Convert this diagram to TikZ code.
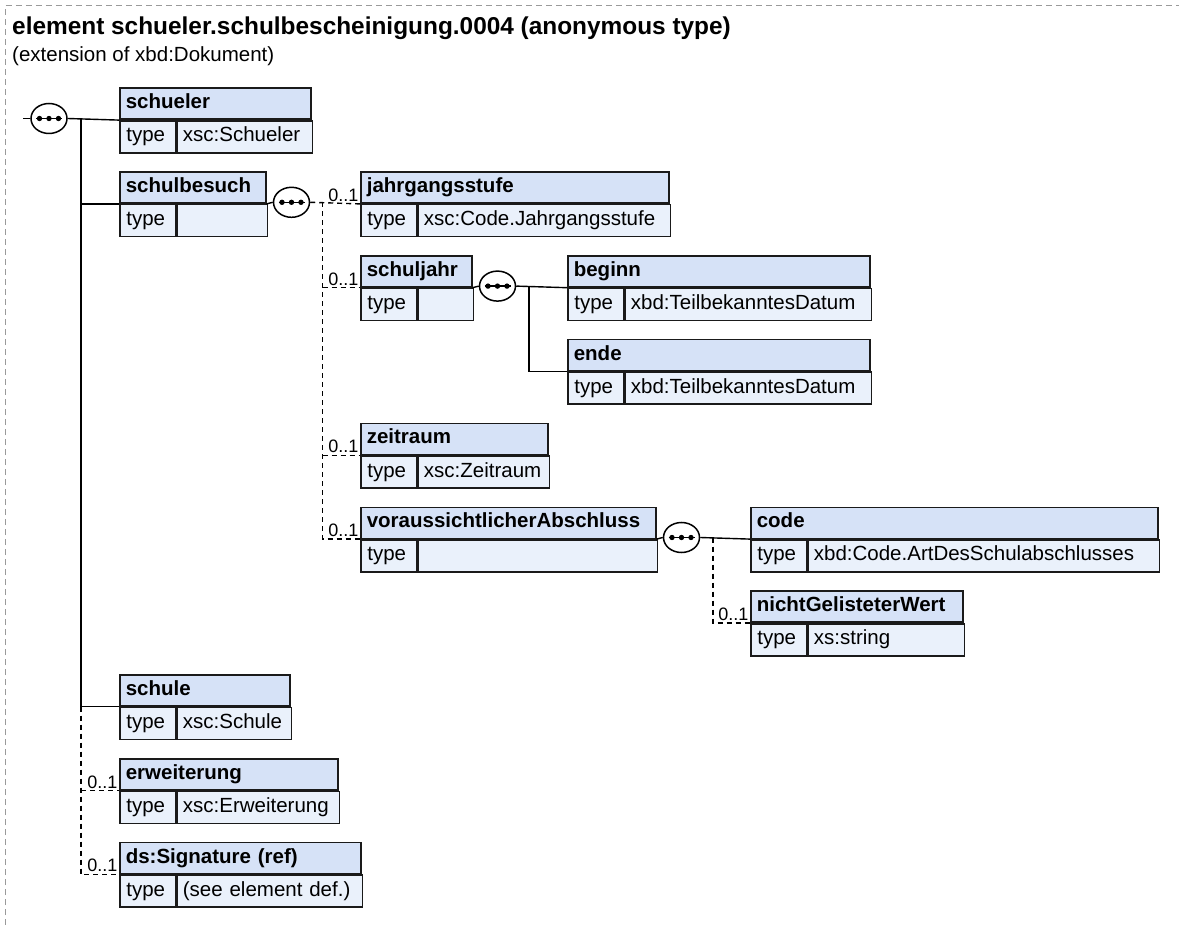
\documentclass[tikz,border=0pt]{standalone}
\usepackage{fontspec}
\setmainfont{Liberation Sans}
\usetikzlibrary{shapes.geometric}
\definecolor{hdrfill}{HTML}{D6E2F7}
\definecolor{typefill}{HTML}{EAF1FB}
\definecolor{boxline}{HTML}{1A1A1A}
\definecolor{frameline}{HTML}{9A9A9A}
\tikzset{
  hdr/.style={draw=boxline, fill=hdrfill, line width=1.6pt, anchor=north west,
    minimum height=31pt, inner xsep=6pt, inner ysep=0pt, text height=15pt,
    text depth=5pt, align=left, font=\bfseries\fontsize{20.5}{24}\selectfont},
  tcell/.style={draw=boxline, fill=typefill, line width=1.6pt, anchor=north west,
    minimum height=32pt, inner xsep=6.5pt, inner ysep=0pt, text width=43pt,
    text height=15pt, text depth=5pt, align=left, font=\fontsize{20.5}{24}\selectfont},
  vcell/.style={draw=boxline, fill=typefill, line width=1.6pt, anchor=north west,
    minimum height=32pt, inner xsep=5.5pt, inner ysep=0pt,
    text height=15pt, text depth=5pt, align=left, font=\fontsize{20.5}{24}\selectfont},
  seq/.style={ellipse, draw=black, line width=1.5pt, fill=white,
    minimum width=36pt, minimum height=30pt, inner sep=0pt,
    path picture={
      \draw[black, solid, line width=1.3pt] ([xshift=-13pt]path picture bounding box.center) -- ([xshift=13pt]path picture bounding box.center);
      \fill[black] ([xshift=-9.5pt]path picture bounding box.center) circle (2.7pt)
            (path picture bounding box.center) circle (2.7pt)
            ([xshift=9.5pt]path picture bounding box.center) circle (2.7pt);
    }},
  conn/.style={draw=black, line width=1.4pt},
  optc/.style={conn, dash pattern=on 5pt off 4pt},
  mult/.style={anchor=base east, inner sep=0pt, xshift=-1.5pt, yshift=2.5pt,
    font=\fontsize{18}{20}\selectfont},
  frame/.style={draw=frameline, line width=1pt, dash pattern=on 6pt off 4pt},
}
\newcommand\xsdbox[6]{%
  \pgfmathsetmacro\xsdw{#4-12}%
  \pgfmathsetmacro\xsdv{#4-56-11}%
  \node[hdr,text width=\xsdw pt] (#1) at (#2,#3) {#5};
  \node[tcell] (#1-t) at (#1.south west) {type};
  \node[vcell,text width=\xsdv pt] (#1-v) at (#1-t.north east) {#6};
}
\begin{document}
\begin{tikzpicture}[x=1pt,y=-1pt]
\useasboundingbox (0,0) rectangle (1179,925);
\draw[frame] (5.5,925) -- (5.5,5.5) -- (1179,5.5);
\node[anchor=base west, inner sep=0pt, font=\bfseries\fontsize{24.4}{28}\selectfont] (title) at (12,35) {element schueler.schulbescheinigung.0004 (anonymous type)};
\node[anchor=base west, inner sep=0pt, font=\fontsize{20.5}{24}\selectfont] (subtitle) at (12,62) {(extension of xbd:Dokument)};

% boxes
\xsdbox{schueler}{119}{87.5}{191}{schueler}{xsc:Schueler}
\xsdbox{schulbesuch}{119}{171.3}{146}{schulbesuch}{}
\xsdbox{jahrgang}{360}{171.3}{308}{jahrgangsstufe}{xsc:Code.Jahrgangsstufe}
\xsdbox{schuljahr}{360}{255.1}{111}{schuljahr}{}
\xsdbox{beginn}{567}{255.1}{302}{beginn}{xbd:TeilbekanntesDatum}
\xsdbox{ende}{567}{338.9}{302}{ende}{xbd:TeilbekanntesDatum}
\xsdbox{zeitraum}{360}{422.7}{187}{zeitraum}{xsc:Zeitraum}
\xsdbox{voraus}{360}{506.5}{295}{voraussichtlicherAbschluss}{}
\xsdbox{code}{750}{506.5}{407}{code}{xbd:Code.ArtDesSchulabschlusses}
\xsdbox{nicht}{750}{590.3}{212}{nichtGelisteterWert}{xs:string}
\xsdbox{schule}{119}{674.1}{170}{schule}{xsc:Schule}
\xsdbox{erw}{119}{757.9}{218}{erweiterung}{xsc:Erweiterung}
\xsdbox{sig}{119}{841.7}{241}{ds:Signature (ref)}{(see element def.)}

% sequence compositors
\node[seq] (sq0) at (49,118.5) {};
\node[seq] (sq1) at (291.5,202.3) {};
\node[seq] (sq2) at (497.5,286.1) {};
\node[seq] (sq3) at (681.5,537.5) {};

% main sequence
\coordinate (in0) at (23,118.5);
\coordinate (tr0) at (81,118.5);
\draw[conn] (in0) -- (sq0.west);
\draw[conn] (sq0.east) -- (schueler.south west);
\draw[conn] (tr0) |- (schulbesuch.south west);
\draw[conn] (tr0) |- (schule.south west);
\draw[optc] (tr0 |- schule.south west) -- (tr0 |- sig.south west) -- (sig.south west);
\draw[optc] (tr0 |- erw.south west) -- (erw.south west);
\node[mult] (m1) at (erw.south west) {0..1};
\node[mult] (m2) at (sig.south west) {0..1};

% schulbesuch sequence
\coordinate (tr1) at (322.5,202.3);
\draw[conn] (schulbesuch.south east) -- (sq1.west);
\draw[optc] (sq1.east) -- (jahrgang.south west);
\draw[optc] (tr1) -- (tr1 |- voraus.south west) -- (voraus.south west);
\draw[optc] (tr1 |- schuljahr.south west) -- (schuljahr.south west);
\draw[optc] (tr1 |- zeitraum.south west) -- (zeitraum.south west);
\node[mult] (m3) at (jahrgang.south west) {0..1};
\node[mult] (m4) at (schuljahr.south west) {0..1};
\node[mult] (m5) at (zeitraum.south west) {0..1};
\node[mult] (m6) at (voraus.south west) {0..1};

% schuljahr sequence
\coordinate (tr2) at (529,286.1);
\draw[conn] (schuljahr.south east) -- (sq2.west);
\draw[conn] (sq2.east) -- (beginn.south west);
\draw[conn] (tr2) |- (ende.south west);

% voraussichtlicherAbschluss sequence
\coordinate (tr3) at (713,537.5);
\draw[conn] (voraus.south east) -- (sq3.west);
\draw[conn] (sq3.east) -- (code.south west);
\draw[optc] (tr3) |- (nicht.south west);
\node[mult] (m7) at (nicht.south west) {0..1};
\end{tikzpicture}
\end{document}
